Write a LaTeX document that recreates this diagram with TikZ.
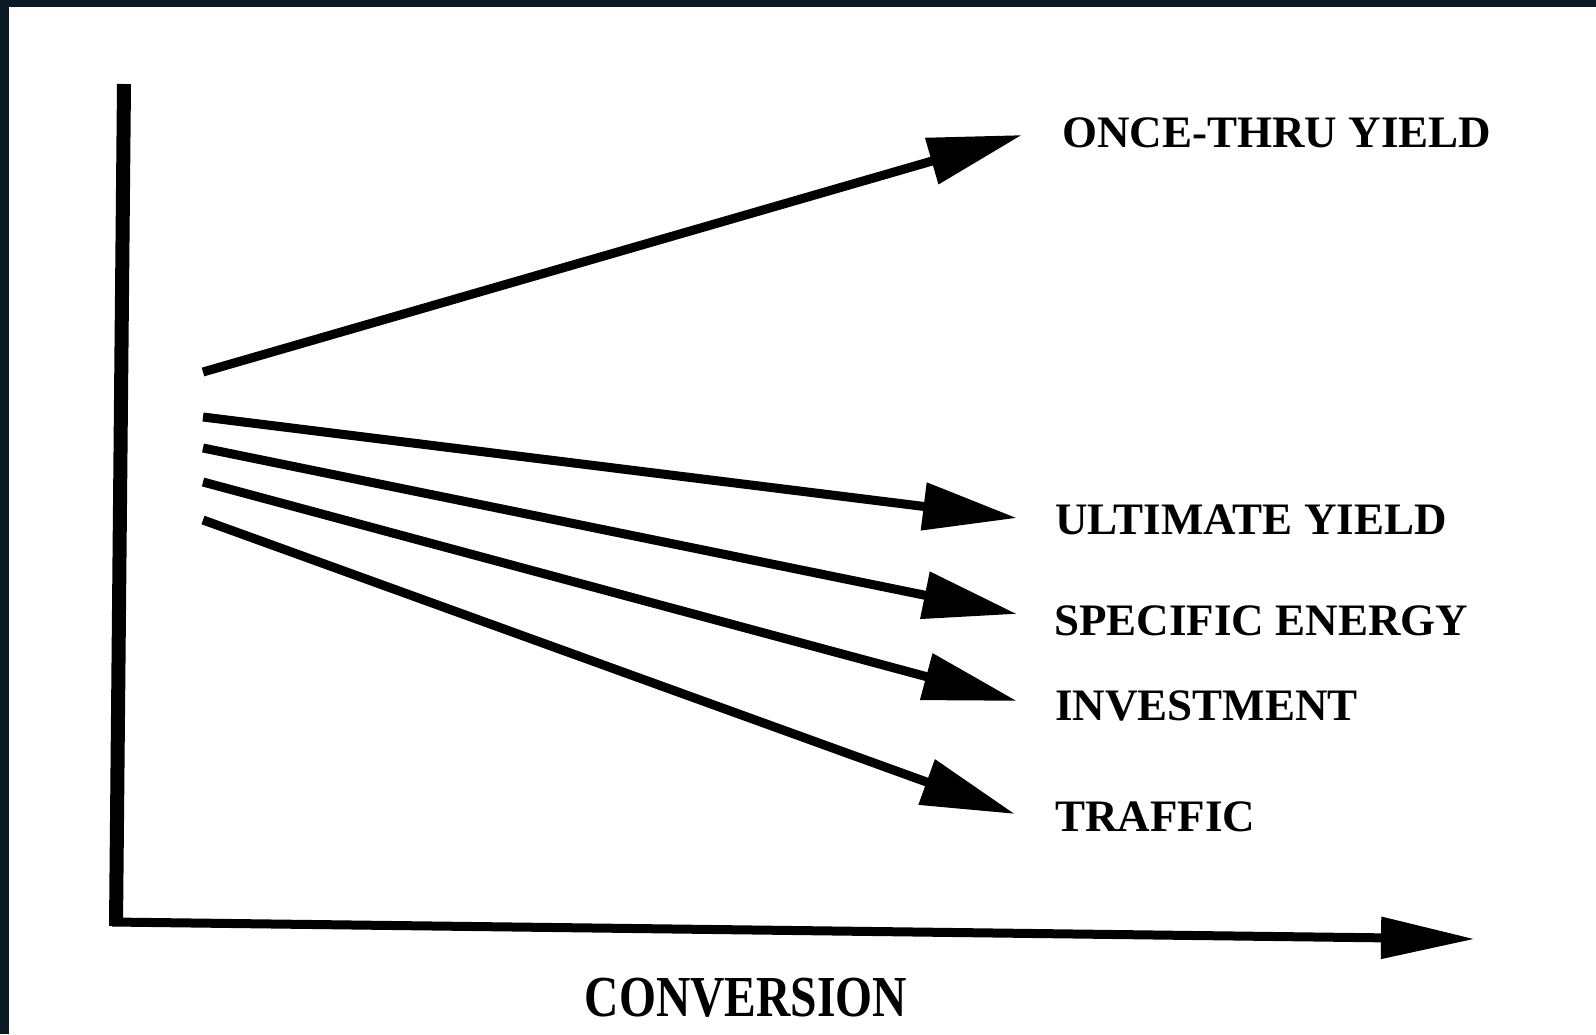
\documentclass[tikz,border=0pt]{standalone}
\usepackage{fontspec}
\setmainfont{Liberation Serif}
\usepackage{xcolor}
\usepackage{tikz}
\usetikzlibrary{arrows.meta, positioning}
\definecolor{myframe}{RGB}{10,27,35}
\tikzstyle{axisline} = [line width=4.5pt, -{Triangle[length=47pt, width=20pt]}]
\tikzstyle{trend} = [line width=4.5pt, -{Triangle[length=47pt, width=23pt]}]
\tikzstyle{result} = [anchor=west, inner sep=0pt, font=\fontsize{22.5}{26}\selectfont\bfseries]

\begin{document}
\begin{tikzpicture}[x=0.5pt, y=-0.5pt]
    \useasboundingbox (0,0) rectangle (1596,1034);
    % dark edge of the scan
    \fill[myframe] (0,0) rectangle (1596,7);
    \fill[myframe] (0,0) rectangle (9,1034);
    % axes
    \coordinate (ytop) at (124,84);
    \coordinate (origin) at (116,926);
    \coordinate (xend) at (1475,939);
    \draw [line width=7pt] (ytop) -- (origin);
    \draw [axisline] (112,922) -- (xend);
    \node (conv) [xscale=0.82, inner sep=0pt, font=\fontsize{29}{32}\selectfont\bfseries] at (746,998) {CONVERSION};
    % trends
    \coordinate (s1) at (203,372);
    \coordinate (s2) at (203,417);
    \coordinate (s3) at (203,448);
    \coordinate (s4) at (203,482);
    \coordinate (s5) at (203,520);
    \coordinate (t1) at (1022,135);
    \coordinate (t2) at (1017,518);
    \coordinate (t3) at (1017,614);
    \coordinate (t4) at (1017,701);
    \coordinate (t5) at (1015,814);
    \node (yield) [result] at (1062,133) {ONCE-THRU YIELD};
    \node (ultimate) [result] at (1055,520) {ULTIMATE YIELD};
    \node (energy) [result] at (1054,621) {SPECIFIC ENERGY};
    \node (invest) [result] at (1055,706) {INVESTMENT};
    \node (traffic) [result] at (1055,817) {TRAFFIC};
    \draw [trend] (s1) -- (t1);
    \draw [trend] (s2) -- (t2);
    \draw [trend] (s3) -- (t3);
    \draw [trend] (s4) -- (t4);
    \draw [trend] (s5) -- (t5);
\end{tikzpicture}
\end{document}
